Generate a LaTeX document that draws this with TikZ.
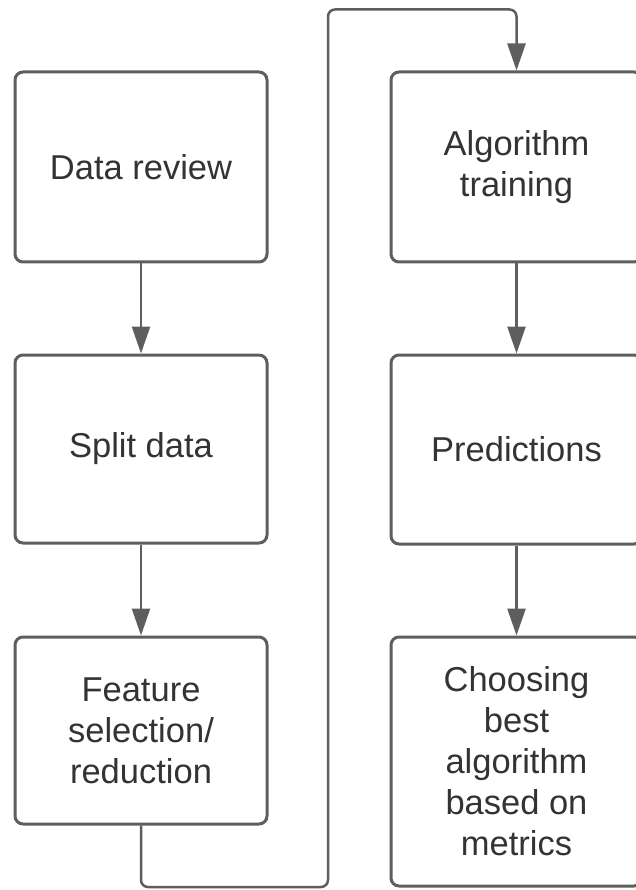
\documentclass[tikz,border=0pt]{standalone}
\usepackage{fontspec}
\setmainfont{Liberation Sans}
\usetikzlibrary{arrows.meta}
\definecolor{edgegray}{HTML}{5E5E5E}
\definecolor{textgray}{HTML}{333333}
\begin{document}
\begin{tikzpicture}[x=1pt,y=-1pt,
  box/.style={draw=edgegray, line width=3pt, rounded corners=8pt, fill=white,
    minimum width=252pt, text=textgray, align=center,
    font=\fontsize{34.5}{41}\selectfont, inner sep=0pt},
  conn/.style={draw=edgegray, line width=2.5pt, -{Triangle[length=27pt,width=18pt]}}]
\useasboundingbox (0,0) rectangle (636,890);
\clip (0,0) rectangle (636,890);
\node[box, minimum height=190pt] (dr) at (141,167) {Data review};
\node[box, minimum height=188pt] (sd) at (141,449) {Split data};
\node[box, minimum height=187pt] (fs) at (141,730.5) {Feature\\selection/\\reduction};
\node[box, minimum height=190pt, minimum width=251pt] (at) at (516.5,167) {Algorithm\\training};
\node[box, minimum height=189pt, minimum width=251pt] (pr) at (516.5,449.5) {Predictions};
\node[box, minimum height=249pt, minimum width=251pt] (cb) at (516.5,761.5) {Choosing\\best\\algorithm\\based on\\metrics};
\coordinate (b1) at (141,887);
\coordinate (b2) at (328,887);
\coordinate (t1) at (328,9.5);
\coordinate (t2) at (516.5,9.5);
\draw[conn] (dr.south) -- (sd.north);
\draw[conn] (sd.south) -- (fs.north);
\draw[conn] (at.south) -- (pr.north);
\draw[conn] (pr.south) -- (cb.north);
\draw[conn, rounded corners=7pt] (fs.south) -- (b1) -- (b2) -- (t1) -- (t2) -- (at.north);
\end{tikzpicture}
\end{document}
